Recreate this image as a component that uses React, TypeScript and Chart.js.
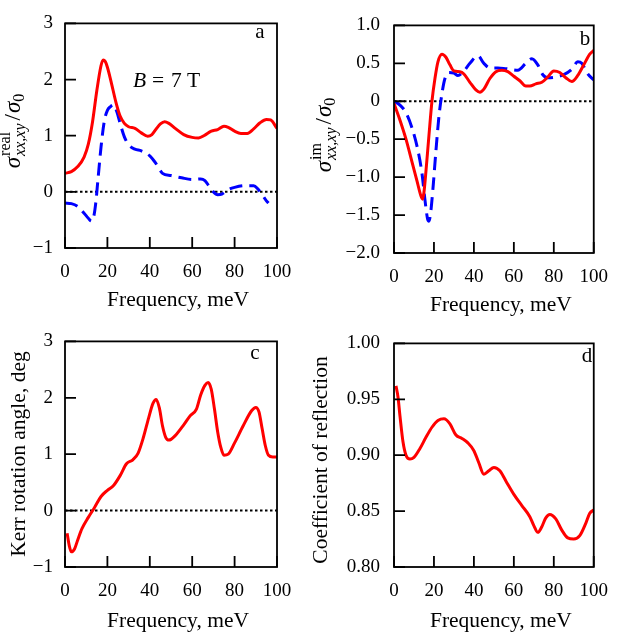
import React, { useEffect, useRef } from "react";
import { Chart, registerables } from "chart.js";

Chart.register(...registerables);

const FONT = '"Liberation Serif", "Times New Roman", serif';
const RED = "#ff0000";
const BLUE = "#0000ff";

// ---------- data ----------
const freqARed = [0, 3, 6, 9, 11, 13, 15, 17, 18, 19, 20, 22, 24, 26, 28, 30, 33, 36, 39, 41, 43, 45, 47, 49, 52, 56, 60, 63, 66, 69, 72, 75, 77, 80, 83, 86, 89, 92, 95, 97, 100];
const valARed = [0.33, 0.36, 0.45, 0.62, 0.85, 1.25, 1.8, 2.25, 2.35, 2.32, 2.22, 1.92, 1.6, 1.35, 1.22, 1.16, 1.13, 1.05, 0.99, 1.02, 1.12, 1.21, 1.25, 1.22, 1.13, 1.02, 0.97, 0.96, 1.01, 1.08, 1.11, 1.17, 1.15, 1.08, 1.04, 1.04, 1.12, 1.23, 1.29, 1.28, 1.13];

const freqABlue = [0, 3, 6, 9, 11, 12.5, 13.5, 14.5, 15.5, 17, 18.5, 20, 21.5, 23, 24.5, 26, 28, 30, 33, 36, 40, 43, 46, 50, 55, 60, 64, 66, 68, 70, 72, 74, 77, 80, 85, 89, 91, 93, 95, 96];
const valABlue = [-0.2, -0.21, -0.26, -0.38, -0.47, -0.52, -0.45, -0.2, 0.2, 0.8, 1.25, 1.45, 1.52, 1.55, 1.42, 1.22, 0.98, 0.84, 0.76, 0.73, 0.64, 0.5, 0.33, 0.29, 0.25, 0.22, 0.23, 0.2, 0.1, 0.0, -0.05, -0.04, 0.04, 0.08, 0.11, 0.11, 0.05, -0.05, -0.16, -0.2];

const freqBRed = [0, 3, 6, 9, 11.5, 13.5, 14.3, 15, 16, 17.5, 19, 20.5, 22, 24, 26, 28, 30, 33, 35, 38, 41, 43, 45, 48, 51, 54, 57, 60, 63, 66, 68, 71, 74, 77, 80, 83, 86, 89, 92, 95, 98, 100];
const valBRed = [-0.03, -0.25, -0.5, -0.8, -1.05, -1.25, -1.29, -1.2, -0.92, -0.45, 0.0, 0.3, 0.52, 0.62, 0.58, 0.48, 0.4, 0.39, 0.36, 0.25, 0.15, 0.12, 0.16, 0.3, 0.39, 0.41, 0.39, 0.33, 0.27, 0.2, 0.2, 0.23, 0.25, 0.32, 0.4, 0.38, 0.31, 0.26, 0.34, 0.48, 0.62, 0.67];

const freqBBlue = [0, 3, 6, 9, 12, 14, 15.5, 16.8, 17.5, 18.3, 19.5, 21, 22.5, 24, 25.5, 27.5, 30, 32, 35, 38, 42, 45, 48, 52, 56, 62, 66, 69, 72, 74.5, 77, 81, 85, 89, 92, 94, 97, 100];
const valBBlue = [0, -0.05, -0.15, -0.35, -0.65, -0.95, -1.3, -1.55, -1.58, -1.48, -1.15, -0.65, -0.2, 0.1, 0.3, 0.38, 0.37, 0.34, 0.4, 0.5, 0.6, 0.5, 0.44, 0.44, 0.43, 0.41, 0.5, 0.56, 0.48, 0.35, 0.31, 0.32, 0.35, 0.42, 0.52, 0.5, 0.36, 0.28];

const freqCRed = [1, 2, 3, 4.5, 6, 8, 11, 14, 17, 20, 23, 26, 29, 32, 34.5, 37, 39.5, 41.5, 43, 44.5, 46, 47.5, 49, 52, 56, 59, 62, 64, 66, 67.5, 69, 70.5, 72, 73.5, 75, 77, 80, 84, 88, 90, 91.5, 93, 94.5, 96, 98, 100];
const valCRed = [-0.4, -0.62, -0.73, -0.68, -0.52, -0.32, -0.12, 0.06, 0.25, 0.36, 0.45, 0.62, 0.83, 0.9, 1.02, 1.3, 1.65, 1.9, 1.97, 1.82, 1.5, 1.3, 1.25, 1.33, 1.52, 1.68, 1.8, 2.05, 2.22, 2.27, 2.15, 1.8, 1.4, 1.12, 0.98, 1.0, 1.2, 1.5, 1.77, 1.83, 1.75, 1.45, 1.15, 0.98, 0.95, 0.95];

const freqDRed = [1, 2, 3, 4.5, 6, 8, 10, 13, 16, 19, 22, 25, 28, 31, 34, 37, 40, 42.5, 45, 47.5, 50, 53, 56, 60, 64, 68, 70, 72, 74, 76, 78, 81, 84, 87, 90, 93, 96, 98, 100];
const valDRed = [0.962, 0.952, 0.935, 0.912, 0.9, 0.8965, 0.898, 0.906, 0.916, 0.925, 0.931, 0.9325, 0.928, 0.918, 0.915, 0.911, 0.904, 0.893, 0.883, 0.886, 0.889, 0.886, 0.877, 0.865, 0.855, 0.845, 0.837, 0.831, 0.836, 0.844, 0.847, 0.843, 0.833, 0.826, 0.825, 0.828, 0.839, 0.848, 0.851];

const zeroFreq = [0, 100];
const zeroVal = [0, 0];

const xTicksStep = 20;
const X_TITLE = "Frequency, meV";

// ---------- component ----------
type Series = { xs: number[]; ys: number[]; color: string; width: number; dash?: number[] };
type YTitle =
  | { kind: "sigma"; sup: string; baseX: number; centerY: number }
  | { kind: "plain"; text: string; baseX: number; centerY: number };

interface PanelProps {
  box: [number, number, number, number];
  plot: [number, number, number, number];
  yMin: number;
  yMax: number;
  yStep: number;
  yDecimals: number;
  yPad: number;
  series: Series[];
  letter: string;
  letterPos: [number, number];
  yTitle: YTitle;
  xTitleDy: number;
  field?: boolean;
}

function fmtTick(v: number, dec: number): string {
  if (Math.abs(v) < 1e-9) return "0";
  const s = Math.abs(v).toFixed(dec);
  return v < 0 ? "\u2212" + s : s;
}

function Panel(p: PanelProps) {
  const ref = useRef<HTMLCanvasElement>(null);
  useEffect(() => {
    const [bx, by, bw, bh] = p.box;
    const [l, t, r, b] = p.plot;
    const XH = 40;
    const datasets = p.series.map((s) => ({
      data: s.xs.map((x, i) => ({ x, y: s.ys[i] })),
      borderColor: s.color,
      borderWidth: s.width,
      borderDash: s.dash || [],
      borderCapStyle: "butt",
      pointRadius: 0,
      fill: false,
      cubicInterpolationMode: "monotone",
    }));

    const overlay = {
      id: "overlay",
      afterDraw(chart: any) {
        const ctx: CanvasRenderingContext2D = chart.ctx;
        const a = chart.chartArea;
        const xs = chart.scales.x;
        const ys = chart.scales.y;
        ctx.save();
        ctx.strokeStyle = "#000";
        ctx.lineWidth = 1.8;
        ctx.setLineDash([]);
        ctx.strokeRect(a.left, a.top, a.right - a.left, a.bottom - a.top);
        const TL = 11;
        ctx.beginPath();
        ys.ticks.forEach((tk: any) => {
          const y = ys.getPixelForValue(tk.value);
          ctx.moveTo(a.left, y);
          ctx.lineTo(a.left + TL, y);
        });
        xs.ticks.forEach((tk: any) => {
          const x = xs.getPixelForValue(tk.value);
          ctx.moveTo(x, a.bottom);
          ctx.lineTo(x, a.bottom - TL);
        });
        ctx.stroke();

        ctx.fillStyle = "#000";
        ctx.textBaseline = "alphabetic";
        // x title
        ctx.font = `21.5px ${FONT}`;
        ctx.textAlign = "center";
        ctx.fillText(X_TITLE, (a.left + a.right) / 2 + 7, a.bottom + p.xTitleDy);
        // letter
        ctx.font = `21px ${FONT}`;
        ctx.fillText(p.letter, p.letterPos[0] - bx, p.letterPos[1] - by);

        if (p.field) {
          ctx.textAlign = "left";
          ctx.font = `italic 21.5px ${FONT}`;
          ctx.fillText("B", 133 - bx, 87 - by);
          ctx.font = `21.5px ${FONT}`;
          ctx.fillText("=", 152 - bx, 87 - by);
          ctx.fillText("7", 171 - bx, 87 - by);
          ctx.fillText("T", 187 - bx, 87 - by);
        }

        // y title
        const yt = p.yTitle;
        ctx.translate(yt.baseX - bx, yt.centerY - by);
        ctx.rotate(-Math.PI / 2);
        ctx.textAlign = "left";
        if (yt.kind === "plain") {
          ctx.font = `21.5px ${FONT}`;
          ctx.textAlign = "center";
          ctx.fillText(yt.text, 0, 0);
        } else {
          const big = `italic 23px ${FONT}`;
          const bigUp = `23px ${FONT}`;
          const smUp = `16px ${FONT}`;
          const smIt = `italic 16px ${FONT}`;
          ctx.font = big;
          const wS = ctx.measureText("\u03c3").width;
          ctx.font = smUp;
          const wSup = ctx.measureText(yt.sup).width;
          const w0 = ctx.measureText("0").width;
          ctx.font = smIt;
          const wSub = ctx.measureText("xx,xy").width;
          ctx.font = bigUp;
          const wSl = ctx.measureText("/").width;
          const wScr = Math.max(wSup, wSub);
          const total = wS + 1 + wScr + 3 + wSl + 1 + wS + w0;
          let x = -total / 2;
          ctx.font = big;
          ctx.fillText("\u03c3", x, 0);
          x += wS + 1;
          ctx.font = smUp;
          ctx.fillText(yt.sup, x, -10);
          ctx.font = smIt;
          ctx.fillText("xx,xy", x, 5);
          x += wScr + 3;
          ctx.font = bigUp;
          ctx.fillText("/", x, 0);
          x += wSl + 1;
          ctx.font = big;
          ctx.fillText("\u03c3", x, 0);
          x += wS;
          ctx.font = smUp;
          ctx.fillText("0", x, 4);
        }
        ctx.restore();
      },
    };

    const chart = new Chart(ref.current as HTMLCanvasElement, {
      type: "line",
      data: { datasets } as any,
      options: {
        responsive: false,
        animation: false,
        events: [],
        layout: {
          padding: { left: 0, top: t - by, right: bx + bw - r, bottom: by + bh - b - XH },
        },
        plugins: { legend: { display: false }, tooltip: { enabled: false } },
        scales: {
          x: {
            type: "linear",
            min: 0,
            max: 100,
            grid: { display: false, drawTicks: false },
            border: { display: false },
            ticks: {
              stepSize: xTicksStep,
              font: { family: FONT, size: 19 },
              color: "#000",
              padding: 13,
              maxRotation: 0,
              autoSkip: false,
              callback: (v: any) => fmtTick(Number(v), 0),
            },
            afterFit: (s: any) => {
              s.height = XH;
            },
          },
          y: {
            type: "linear",
            min: p.yMin,
            max: p.yMax,
            grid: { display: false, drawTicks: false },
            border: { display: false },
            ticks: {
              stepSize: p.yStep,
              font: { family: FONT, size: 19 },
              color: "#000",
              padding: p.yPad,
              autoSkip: false,
              callback: (v: any) => fmtTick(Number(v), p.yDecimals),
            },
            afterFit: (s: any) => {
              s.width = l - bx;
            },
          },
        },
      } as any,
      plugins: [overlay],
    });
    return () => chart.destroy();
  }, []);
  const [bx, by, bw, bh] = p.box;
  return (
    <canvas
      ref={ref}
      width={bw}
      height={bh}
      style={{ position: "absolute", left: bx, top: by, width: bw, height: bh }}
    />
  );
}

const zeroSeries: Series = { xs: zeroFreq, ys: zeroVal, color: "#000", width: 2, dash: [2.5, 2.5] };

export default function App() {
  return (
    <div style={{ position: "absolute", left: 0, top: 0, width: 621, height: 637, background: "#fff" }}>
      <Panel
        box={[0, 0, 310, 318]}
        plot={[65, 13, 277, 248]}
        yMin={-1}
        yMax={3}
        yStep={1}
        yDecimals={0}
        yPad={12}
        series={[
          { xs: freqARed, ys: valARed, color: RED, width: 3 },
          { xs: freqABlue, ys: valABlue, color: BLUE, width: 3, dash: [13, 7] },
          zeroSeries,
        ]}
        letter="a"
        letterPos={[260, 38]}
        yTitle={{ kind: "sigma", sup: "real", baseX: 20, centerY: 131 }}
        xTitleDy={58}
        field
      />
      <Panel
        box={[310, 0, 311, 318]}
        plot={[394, 17, 606, 253]}
        yMin={-2}
        yMax={1}
        yStep={0.5}
        yDecimals={1}
        yPad={14}
        series={[
          { xs: freqBRed, ys: valBRed, color: RED, width: 3 },
          { xs: freqBBlue, ys: valBBlue, color: BLUE, width: 3, dash: [13, 7] },
          zeroSeries,
        ]}
        letter="b"
        letterPos={[585, 45]}
        yTitle={{ kind: "sigma", sup: "im", baseX: 331, centerY: 135 }}
        xTitleDy={58}
      />
      <Panel
        box={[0, 318, 310, 319]}
        plot={[65, 332, 277, 567]}
        yMin={-1}
        yMax={3}
        yStep={1}
        yDecimals={0}
        yPad={12}
        series={[{ xs: freqCRed, ys: valCRed, color: RED, width: 3 }, zeroSeries]}
        letter="c"
        letterPos={[255, 359]}
        yTitle={{ kind: "plain", text: "Kerr rotation angle, deg", baseX: 25, centerY: 454 }}
        xTitleDy={60}
      />
      <Panel
        box={[310, 318, 311, 319]}
        plot={[394, 332, 606, 567]}
        yMin={0.8}
        yMax={1.0}
        yStep={0.05}
        yDecimals={2}
        yPad={14}
        series={[{ xs: freqDRed, ys: valDRed, color: RED, width: 3 }]}
        letter="d"
        letterPos={[587, 362]}
        yTitle={{ kind: "plain", text: "Coefficient of reflection", baseX: 327, centerY: 460 }}
        xTitleDy={60}
      />
    </div>
  );
}
